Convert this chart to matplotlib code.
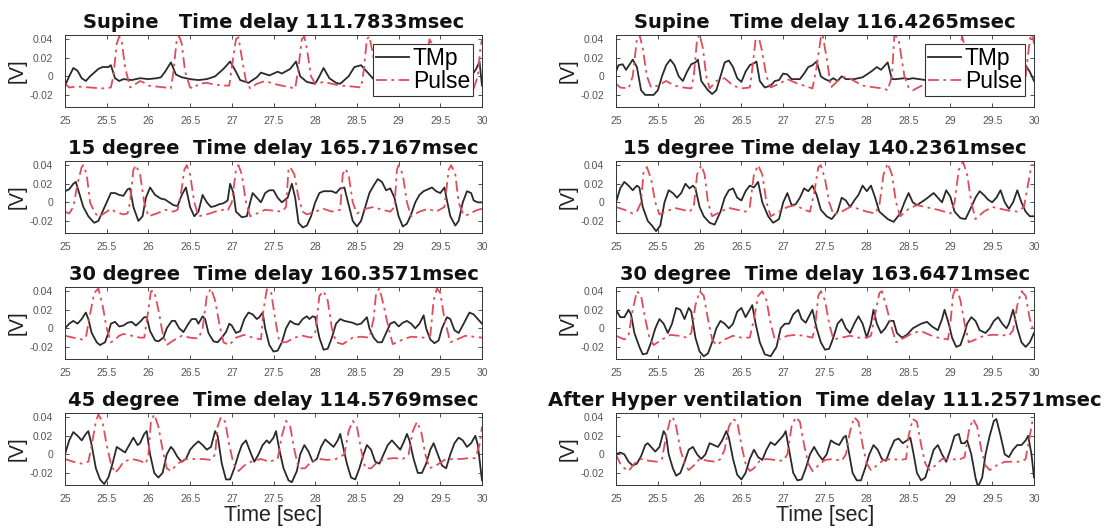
import numpy as np
import matplotlib
matplotlib.use("Agg")
import matplotlib.pyplot as plt

plt.rcParams['font.family'] = ['Liberation Sans', 'DejaVu Sans']

# ---- axis ticks and titles ----
TIME_TICKS = [25, 25.5, 26, 26.5, 27, 27.5, 28, 28.5, 29, 29.5, 30]
TIME_TICK_LABELS = ['25', '25.5', '26', '26.5', '27', '27.5', '28', '28.5', '29', '29.5', '30']
VOLT_TICKS = [-0.02, 0, 0.02, 0.04]
VOLT_TICK_LABELS = ['-0.02', '0', '0.02', '0.04']

TITLES = [
    ['Supine   Time delay 111.7833msec', 'Supine   Time delay 116.4265msec'],
    ['15 degree  Time delay 165.7167msec', '15 degree Time delay 140.2361msec'],
    ['30 degree  Time delay 160.3571msec', '30 degree  Time delay 163.6471msec'],
    ['45 degree  Time delay 114.5769msec', 'After Hyper ventilation  Time delay 111.2571msec'],
]

# ---- recorded signals: (time [sec], voltage [V]) ----
SUPINE_A_TMP = [
    (25.00, -0.010), (25.05, 0.000), (25.10, 0.009), (25.15, 0.006), (25.20, -0.002), (25.25, -0.005),
    (25.30, 0.000), (25.35, 0.004), (25.40, 0.008), (25.45, 0.010), (25.52, 0.010), (25.55, 0.012),
    (25.60, -0.002), (25.65, -0.005), (25.70, -0.003), (25.80, -0.004), (25.90, -0.002), (26.00, -0.003),
    (26.10, -0.002), (26.15, -0.001), (26.20, 0.005), (26.27, 0.015), (26.33, 0.002), (26.40, -0.001),
    (26.50, -0.003), (26.60, -0.004), (26.70, -0.003), (26.80, 0.000), (26.90, 0.008), (26.98, 0.016),
    (27.05, 0.005), (27.10, -0.004), (27.20, -0.007), (27.30, -0.001), (27.35, 0.004), (27.45, 0.001),
    (27.55, 0.005), (27.60, 0.003), (27.70, 0.008), (27.77, 0.016), (27.82, 0.000), (27.90, -0.006),
    (28.00, -0.008), (28.05, 0.000), (28.10, 0.009), (28.17, -0.002), (28.25, -0.007), (28.30, -0.008),
    (28.40, 0.000), (28.47, 0.010), (28.55, 0.012), (28.62, 0.005), (28.70, -0.003), (28.80, -0.005),
    (28.90, 0.000), (29.00, 0.008), (29.10, 0.000), (29.20, -0.005), (29.30, 0.000), (29.40, 0.005),
    (29.50, 0.000), (29.60, -0.004), (29.70, 0.002), (29.80, 0.002), (29.90, 0.004), (29.93, 0.008),
    (29.97, 0.016), (30.00, -0.010),
]
SUPINE_A_PULSE = [
    (25.00, -0.008), (25.05, -0.012), (25.15, -0.011), (25.30, -0.012), (25.45, -0.013), (25.55, -0.012),
    (25.58, 0.000), (25.62, 0.035), (25.65, 0.043), (25.68, 0.038), (25.72, 0.010), (25.78, -0.012),
    (25.85, -0.008), (25.90, -0.005), (25.95, -0.007), (26.00, -0.010), (26.10, -0.011), (26.20, -0.012),
    (26.27, -0.013), (26.30, 0.005), (26.34, 0.040), (26.37, 0.043), (26.40, 0.035), (26.44, 0.005),
    (26.50, -0.012), (26.55, -0.013), (26.60, -0.008), (26.70, -0.007), (26.80, -0.009), (26.90, -0.010),
    (26.97, -0.010), (27.00, 0.010), (27.05, 0.040), (27.08, 0.042), (27.12, 0.020), (27.17, -0.005),
    (27.22, -0.013), (27.30, -0.008), (27.40, -0.005), (27.50, -0.008), (27.60, -0.010), (27.70, -0.012),
    (27.76, -0.013), (27.80, 0.010), (27.84, 0.040), (27.87, 0.043), (27.90, 0.030), (27.95, 0.000),
    (28.00, -0.008), (28.10, -0.006), (28.20, -0.008), (28.30, -0.010), (28.45, -0.011), (28.55, -0.012),
    (28.58, 0.005), (28.62, 0.040), (28.65, 0.043), (28.70, 0.020), (28.75, -0.010), (28.85, -0.012),
    (29.00, -0.008), (29.20, -0.010), (29.30, -0.012), (29.33, 0.010), (29.37, 0.040), (29.40, 0.035),
    (29.45, 0.000), (29.50, -0.012), (29.70, -0.008), (29.85, -0.011), (29.90, -0.013), (29.95, 0.000),
    (29.98, 0.030), (30.00, 0.040),
]

SUPINE_B_TMP = [
    (25.00, 0.005), (25.03, 0.012), (25.08, 0.013), (25.12, 0.007), (25.20, 0.018), (25.25, 0.010),
    (25.30, -0.015), (25.35, -0.020), (25.45, -0.020), (25.50, -0.015), (25.55, 0.000), (25.60, 0.012),
    (25.65, 0.018), (25.70, 0.012), (25.75, 0.000), (25.80, -0.005), (25.85, 0.005), (25.90, 0.013),
    (25.95, 0.015), (25.98, 0.018), (26.02, -0.005), (26.10, -0.015), (26.15, -0.019), (26.20, -0.015),
    (26.25, 0.000), (26.30, 0.015), (26.35, 0.017), (26.40, 0.010), (26.45, -0.002), (26.50, -0.006),
    (26.55, 0.005), (26.60, 0.012), (26.65, 0.014), (26.68, 0.016), (26.72, -0.005), (26.78, -0.012),
    (26.85, -0.010), (26.90, -0.005), (26.95, -0.004), (27.00, 0.003), (27.05, 0.002), (27.10, -0.003),
    (27.20, -0.003), (27.25, 0.003), (27.30, 0.010), (27.35, 0.012), (27.40, 0.016), (27.45, 0.000),
    (27.50, -0.003), (27.55, -0.005), (27.60, -0.002), (27.65, -0.005), (27.70, 0.000), (27.75, -0.003),
    (27.85, -0.003), (27.95, -0.001), (28.05, 0.005), (28.12, 0.010), (28.17, 0.007), (28.25, 0.015),
    (28.30, -0.003), (28.35, -0.003), (28.45, -0.002), (28.50, -0.003), (28.55, -0.002), (28.70, -0.004),
    (28.90, 0.000), (29.10, -0.003), (29.30, 0.005), (29.50, -0.002), (29.70, 0.000), (29.85, 0.008),
    (29.89, 0.013), (29.95, 0.005), (30.00, -0.005),
]
SUPINE_B_PULSE = [
    (25.00, -0.008), (25.05, -0.012), (25.15, -0.013), (25.20, 0.000), (25.25, 0.040), (25.28, 0.045),
    (25.32, 0.030), (25.37, 0.000), (25.42, -0.012), (25.50, -0.010), (25.60, -0.005), (25.70, -0.010),
    (25.80, -0.012), (25.90, -0.013), (25.93, 0.000), (25.97, 0.040), (26.00, 0.045), (26.04, 0.030),
    (26.08, 0.000), (26.12, -0.013), (26.20, -0.005), (26.30, -0.002), (26.40, -0.010), (26.50, -0.013),
    (26.60, -0.012), (26.62, 0.000), (26.67, 0.040), (26.70, 0.045), (26.74, 0.030), (26.80, 0.000),
    (26.85, -0.012), (26.95, -0.008), (27.05, -0.003), (27.15, -0.007), (27.25, -0.010), (27.35, -0.013),
    (27.40, 0.010), (27.45, 0.042), (27.47, 0.045), (27.52, 0.020), (27.57, -0.012), (27.65, -0.005),
    (27.75, 0.000), (27.85, -0.005), (27.95, -0.010), (28.10, -0.012), (28.20, -0.013), (28.25, -0.015),
    (28.30, 0.000), (28.33, 0.045), (28.38, 0.040), (28.45, 0.000), (28.50, -0.012), (28.55, -0.015),
    (28.70, -0.008), (28.90, -0.005), (29.05, -0.010), (29.10, 0.020), (29.14, 0.043), (29.18, 0.030),
    (29.25, 0.000), (29.30, -0.010), (29.50, -0.008), (29.70, -0.010), (29.85, -0.012), (29.90, 0.000),
    (29.95, 0.040), (29.98, 0.045), (30.00, 0.035),
]

DEG15_A_TMP = [
    (25.00, 0.012), (25.05, 0.014), (25.10, 0.020), (25.13, 0.022), (25.17, 0.010), (25.22, -0.005),
    (25.28, -0.015), (25.35, -0.022), (25.40, -0.020), (25.45, -0.010), (25.50, 0.000), (25.55, 0.010),
    (25.60, 0.010), (25.65, 0.008), (25.70, 0.007), (25.75, 0.014), (25.78, 0.015), (25.82, -0.005),
    (25.88, -0.020), (25.93, -0.015), (25.97, 0.005), (26.02, 0.016), (26.08, 0.008), (26.15, 0.004),
    (26.20, 0.003), (26.30, -0.003), (26.35, -0.004), (26.40, 0.008), (26.45, 0.016), (26.50, -0.005),
    (26.55, -0.015), (26.60, -0.010), (26.65, 0.008), (26.70, 0.000), (26.75, -0.005), (26.80, -0.004),
    (26.85, -0.002), (26.90, -0.001), (26.95, 0.002), (26.98, 0.020), (27.02, 0.010), (27.05, -0.010),
    (27.12, -0.016), (27.18, -0.015), (27.22, 0.000), (27.25, 0.010), (27.30, 0.005), (27.35, 0.000),
    (27.40, 0.010), (27.45, 0.013), (27.50, 0.013), (27.55, 0.005), (27.60, 0.000), (27.67, 0.005),
    (27.72, 0.020), (27.76, 0.005), (27.80, -0.022), (27.85, -0.027), (27.90, -0.025), (27.95, -0.015),
    (28.00, 0.000), (28.05, 0.010), (28.10, 0.012), (28.20, 0.012), (28.25, 0.010), (28.30, 0.015),
    (28.35, 0.016), (28.38, 0.005), (28.45, -0.020), (28.50, -0.026), (28.55, -0.020), (28.60, -0.005),
    (28.65, 0.010), (28.70, 0.018), (28.75, 0.025), (28.80, 0.022), (28.85, 0.013), (28.90, 0.015),
    (28.95, 0.005), (29.00, -0.015), (29.05, -0.026), (29.10, -0.023), (29.15, -0.013), (29.20, 0.000),
    (29.25, 0.008), (29.30, 0.012), (29.35, 0.014), (29.40, 0.016), (29.45, 0.012), (29.50, 0.010),
    (29.55, 0.016), (29.58, 0.002), (29.62, -0.015), (29.68, -0.025), (29.72, -0.020), (29.77, 0.000),
    (29.82, 0.012), (29.87, 0.010), (29.90, 0.002), (29.95, 0.000), (30.00, 0.000),
]
DEG15_A_PULSE = [
    (25.00, -0.010), (25.05, -0.012), (25.10, -0.005), (25.15, 0.020), (25.20, 0.038), (25.22, 0.040),
    (25.26, 0.030), (25.30, 0.000), (25.35, -0.010), (25.40, -0.016), (25.50, -0.010), (25.55, -0.007),
    (25.60, -0.010), (25.70, -0.013), (25.75, -0.012), (25.78, 0.000), (25.82, 0.035), (25.85, 0.040),
    (25.90, 0.030), (25.95, 0.000), (26.00, -0.015), (26.10, -0.012), (26.20, -0.008), (26.30, -0.010),
    (26.35, -0.008), (26.40, 0.015), (26.43, 0.035), (26.46, 0.040), (26.50, 0.030), (26.55, 0.000),
    (26.60, -0.015), (26.70, -0.013), (26.80, -0.010), (26.90, -0.008), (26.95, -0.009), (27.00, 0.000),
    (27.05, 0.035), (27.08, 0.040), (27.12, 0.030), (27.17, 0.000), (27.22, -0.015), (27.30, -0.012),
    (27.40, -0.008), (27.50, -0.009), (27.60, -0.010), (27.65, -0.005), (27.68, 0.035), (27.70, 0.038),
    (27.75, 0.030), (27.80, 0.005), (27.85, -0.010), (27.90, -0.013), (28.00, -0.010), (28.10, -0.007),
    (28.20, -0.010), (28.30, -0.008), (28.33, 0.030), (28.36, 0.036), (28.40, 0.030), (28.45, 0.000),
    (28.50, -0.012), (28.60, -0.007), (28.70, -0.005), (28.80, -0.008), (28.90, -0.010), (28.95, -0.005),
    (28.98, 0.035), (29.00, 0.040), (29.05, 0.030), (29.10, 0.000), (29.15, -0.015), (29.25, -0.010),
    (29.35, -0.007), (29.45, -0.010), (29.55, -0.005), (29.60, 0.035), (29.63, 0.040), (29.68, 0.030),
    (29.72, 0.000), (29.78, -0.014), (29.85, -0.013), (29.90, -0.010), (29.95, -0.008), (30.00, -0.007),
]

DEG15_B_TMP = [
    (25.00, 0.000), (25.05, 0.015), (25.10, 0.022), (25.15, 0.018), (25.20, 0.013), (25.25, 0.018),
    (25.28, 0.016), (25.32, -0.005), (25.38, -0.020), (25.43, -0.025), (25.48, -0.031), (25.53, -0.025),
    (25.58, 0.000), (25.63, 0.013), (25.68, 0.010), (25.73, 0.005), (25.78, 0.010), (25.83, 0.020),
    (25.88, 0.015), (25.92, 0.018), (25.95, 0.015), (26.00, -0.005), (26.05, -0.015), (26.12, -0.022),
    (26.18, -0.024), (26.25, -0.010), (26.30, 0.005), (26.35, 0.013), (26.40, 0.015), (26.45, 0.005),
    (26.50, 0.002), (26.55, 0.012), (26.60, 0.018), (26.65, 0.016), (26.70, 0.022), (26.75, 0.000),
    (26.82, -0.015), (26.88, -0.022), (26.95, -0.018), (27.00, 0.000), (27.05, 0.010), (27.10, -0.003),
    (27.15, -0.002), (27.20, 0.005), (27.25, 0.015), (27.30, 0.012), (27.35, 0.018), (27.40, 0.008),
    (27.45, -0.008), (27.52, -0.015), (27.58, -0.018), (27.65, -0.010), (27.70, 0.005), (27.75, 0.002),
    (27.80, -0.005), (27.85, 0.002), (27.90, 0.008), (27.95, 0.018), (28.00, 0.012), (28.05, 0.018),
    (28.10, 0.005), (28.15, -0.010), (28.25, -0.018), (28.32, -0.021), (28.40, -0.012), (28.45, 0.000),
    (28.50, 0.010), (28.55, 0.000), (28.60, -0.003), (28.70, 0.003), (28.80, 0.010), (28.85, 0.005),
    (28.90, 0.000), (28.95, 0.013), (29.00, 0.006), (29.05, -0.010), (29.12, -0.017), (29.18, -0.018),
    (29.25, -0.005), (29.30, 0.005), (29.35, 0.012), (29.40, 0.008), (29.45, 0.003), (29.50, 0.000),
    (29.55, 0.005), (29.60, 0.013), (29.65, 0.000), (29.70, -0.007), (29.75, 0.000), (29.80, 0.013),
    (29.85, 0.000), (29.90, -0.010), (29.95, -0.015), (30.00, -0.015),
]
DEG15_B_PULSE = [
    (25.00, -0.005), (25.10, -0.008), (25.20, -0.012), (25.25, -0.010), (25.30, 0.000), (25.33, 0.033),
    (25.37, 0.038), (25.42, 0.025), (25.47, 0.000), (25.52, -0.013), (25.60, -0.010), (25.70, -0.006),
    (25.80, -0.008), (25.88, -0.010), (25.93, -0.005), (25.97, 0.030), (26.02, 0.040), (26.06, 0.030),
    (26.10, 0.000), (26.15, -0.015), (26.25, -0.010), (26.35, -0.006), (26.45, -0.008), (26.55, -0.010),
    (26.60, -0.005), (26.65, 0.030), (26.70, 0.040), (26.75, 0.030), (26.80, 0.000), (26.85, -0.015),
    (26.95, -0.010), (27.05, -0.005), (27.15, -0.003), (27.25, -0.008), (27.32, -0.010), (27.37, 0.010),
    (27.42, 0.038), (27.45, 0.040), (27.50, 0.025), (27.55, 0.000), (27.60, -0.013), (27.70, -0.010),
    (27.80, -0.005), (27.90, -0.007), (28.00, -0.010), (28.10, -0.012), (28.15, -0.003), (28.20, 0.030),
    (28.25, 0.042), (28.30, 0.030), (28.35, 0.000), (28.40, -0.015), (28.50, -0.007), (28.60, -0.003),
    (28.70, -0.005), (28.85, -0.008), (29.00, -0.012), (29.05, 0.000), (29.10, 0.035), (29.15, 0.044),
    (29.20, 0.030), (29.25, 0.000), (29.30, -0.018), (29.40, -0.010), (29.50, -0.005), (29.60, -0.007),
    (29.70, -0.009), (29.80, -0.010), (29.88, -0.005), (29.93, 0.020), (29.97, 0.040), (30.00, 0.040),
]

DEG30_A_TMP = [
    (25.00, 0.000), (25.05, 0.005), (25.10, 0.008), (25.15, 0.005), (25.20, 0.010), (25.25, 0.017),
    (25.28, 0.010), (25.32, -0.005), (25.38, -0.015), (25.42, -0.018), (25.48, -0.015), (25.52, -0.005),
    (25.55, 0.005), (25.60, 0.007), (25.65, 0.002), (25.70, 0.003), (25.75, 0.006), (25.80, 0.007),
    (25.85, 0.003), (25.90, 0.007), (25.95, 0.012), (25.98, 0.012), (26.02, -0.003), (26.08, -0.013),
    (26.12, -0.014), (26.18, -0.010), (26.22, 0.000), (26.28, 0.008), (26.32, 0.008), (26.37, 0.000),
    (26.42, -0.004), (26.48, 0.005), (26.52, 0.010), (26.57, 0.010), (26.60, 0.005), (26.65, 0.013),
    (26.68, 0.010), (26.72, -0.005), (26.78, -0.014), (26.83, -0.015), (26.88, -0.010), (26.93, -0.004),
    (26.97, 0.005), (27.00, 0.003), (27.05, -0.005), (27.10, -0.003), (27.15, 0.010), (27.20, 0.017),
    (27.25, 0.015), (27.30, 0.010), (27.33, 0.012), (27.37, 0.017), (27.40, 0.000), (27.45, -0.018),
    (27.50, -0.025), (27.55, -0.024), (27.60, -0.015), (27.65, 0.000), (27.70, 0.008), (27.75, 0.005),
    (27.80, 0.004), (27.85, 0.010), (27.90, 0.013), (27.93, 0.010), (27.97, 0.013), (28.00, 0.012),
    (28.05, -0.010), (28.10, -0.023), (28.15, -0.022), (28.20, -0.010), (28.25, 0.005), (28.30, 0.010),
    (28.35, 0.008), (28.45, 0.006), (28.50, 0.004), (28.55, 0.005), (28.62, 0.012), (28.65, 0.000),
    (28.70, -0.010), (28.75, -0.015), (28.80, -0.015), (28.85, -0.005), (28.90, 0.005), (28.95, 0.007),
    (29.00, 0.002), (29.05, 0.006), (29.10, 0.008), (29.15, 0.005), (29.20, 0.000), (29.25, 0.005),
    (29.30, 0.014), (29.33, 0.000), (29.38, -0.012), (29.43, -0.016), (29.48, -0.013), (29.52, 0.000),
    (29.58, 0.012), (29.62, 0.010), (29.67, -0.002), (29.72, -0.005), (29.78, 0.005), (29.85, 0.017),
    (29.90, 0.015), (29.95, 0.010), (30.00, 0.005),
]
DEG30_A_PULSE = [
    (25.00, -0.008), (25.10, -0.010), (25.20, -0.012), (25.25, -0.010), (25.30, 0.015), (25.35, 0.038),
    (25.40, 0.043), (25.45, 0.025), (25.50, 0.000), (25.55, -0.015), (25.60, -0.012), (25.65, -0.008),
    (25.70, -0.006), (25.80, -0.008), (25.90, -0.010), (25.95, -0.010), (26.00, 0.020), (26.03, 0.040),
    (26.07, 0.040), (26.12, 0.020), (26.17, -0.005), (26.22, -0.018), (26.30, -0.013), (26.40, -0.008),
    (26.50, -0.010), (26.60, -0.011), (26.65, 0.000), (26.70, 0.035), (26.75, 0.043), (26.80, 0.030),
    (26.85, 0.005), (26.90, -0.015), (26.97, -0.018), (27.05, -0.010), (27.15, -0.007), (27.25, -0.010),
    (27.35, -0.012), (27.38, 0.020), (27.42, 0.042), (27.47, 0.040), (27.52, 0.010), (27.57, -0.015),
    (27.65, -0.015), (27.75, -0.010), (27.85, -0.008), (27.95, -0.010), (28.00, -0.005), (28.05, 0.035),
    (28.10, 0.040), (28.15, 0.030), (28.20, 0.000), (28.25, -0.015), (28.33, -0.017), (28.45, -0.010),
    (28.55, -0.009), (28.65, -0.010), (28.70, 0.010), (28.73, 0.038), (28.77, 0.043), (28.82, 0.025),
    (28.88, 0.000), (28.93, -0.017), (29.05, -0.012), (29.15, -0.009), (29.30, -0.010), (29.38, -0.008),
    (29.42, 0.030), (29.46, 0.043), (29.50, 0.038), (29.55, 0.010), (29.62, -0.015), (29.70, -0.012),
    (29.80, -0.008), (29.90, -0.009), (30.00, -0.010),
]

DEG30_B_TMP = [
    (25.00, 0.020), (25.05, 0.012), (25.10, 0.012), (25.15, 0.020), (25.18, 0.015), (25.22, -0.005),
    (25.28, -0.020), (25.32, -0.028), (25.37, -0.027), (25.42, -0.015), (25.47, 0.000), (25.52, 0.010),
    (25.57, 0.005), (25.62, -0.005), (25.67, 0.005), (25.72, 0.022), (25.77, 0.020), (25.82, 0.010),
    (25.87, 0.022), (25.90, 0.018), (25.95, -0.010), (26.00, -0.025), (26.05, -0.030), (26.10, -0.027),
    (26.15, -0.015), (26.20, 0.000), (26.25, 0.008), (26.30, 0.005), (26.35, 0.000), (26.40, 0.005),
    (26.45, 0.018), (26.50, 0.022), (26.55, 0.012), (26.60, 0.020), (26.63, 0.025), (26.67, 0.005),
    (26.72, -0.015), (26.78, -0.028), (26.85, -0.030), (26.92, -0.020), (26.97, 0.000), (27.02, 0.005),
    (27.07, 0.005), (27.12, 0.015), (27.18, 0.020), (27.22, 0.010), (27.27, 0.006), (27.32, 0.015),
    (27.35, 0.020), (27.40, 0.000), (27.45, -0.015), (27.50, -0.023), (27.55, -0.022), (27.60, -0.010),
    (27.65, 0.005), (27.70, 0.010), (27.75, 0.000), (27.80, -0.005), (27.85, 0.005), (27.90, 0.013),
    (27.95, 0.005), (28.00, -0.010), (28.05, 0.005), (28.08, 0.020), (28.12, 0.005), (28.17, -0.005),
    (28.22, 0.000), (28.27, 0.008), (28.32, 0.008), (28.36, -0.005), (28.42, -0.010), (28.48, -0.007),
    (28.55, 0.000), (28.65, 0.005), (28.72, 0.007), (28.78, 0.002), (28.85, -0.002), (28.90, 0.010),
    (28.93, 0.020), (28.98, 0.005), (29.02, -0.010), (29.07, -0.020), (29.12, -0.018), (29.17, -0.005),
    (29.20, 0.005), (29.25, 0.012), (29.30, 0.008), (29.35, -0.002), (29.42, -0.005), (29.47, 0.000),
    (29.52, 0.008), (29.57, 0.012), (29.62, 0.005), (29.67, 0.000), (29.70, 0.005), (29.75, 0.020),
    (29.80, 0.000), (29.85, -0.015), (29.90, -0.020), (29.95, -0.015), (30.00, -0.005),
]
DEG30_B_PULSE = [
    (25.00, -0.008), (25.10, -0.012), (25.15, -0.008), (25.20, 0.020), (25.25, 0.040), (25.30, 0.035),
    (25.35, 0.010), (25.40, -0.010), (25.45, -0.018), (25.55, -0.012), (25.65, -0.007), (25.75, -0.008),
    (25.85, -0.010), (25.90, -0.005), (25.95, 0.025), (26.00, 0.040), (26.05, 0.035), (26.10, 0.010),
    (26.15, -0.012), (26.20, -0.018), (26.30, -0.012), (26.40, -0.008), (26.50, -0.010), (26.60, -0.010),
    (26.65, 0.010), (26.70, 0.035), (26.75, 0.040), (26.80, 0.030), (26.85, 0.005), (26.90, -0.012),
    (26.95, -0.012), (27.05, -0.008), (27.15, -0.007), (27.25, -0.008), (27.35, -0.010), (27.38, 0.000),
    (27.42, 0.035), (27.45, 0.040), (27.50, 0.030), (27.55, 0.005), (27.60, -0.012), (27.70, -0.010),
    (27.80, -0.008), (27.90, -0.010), (28.00, -0.010), (28.05, -0.008), (28.10, 0.015), (28.15, 0.038),
    (28.18, 0.040), (28.23, 0.025), (28.30, 0.000), (28.35, -0.015), (28.45, -0.010), (28.55, -0.005),
    (28.65, -0.003), (28.75, -0.007), (28.85, -0.010), (28.97, -0.012), (29.00, 0.005), (29.03, 0.035),
    (29.07, 0.045), (29.12, 0.030), (29.17, 0.005), (29.22, -0.015), (29.30, -0.012), (29.40, -0.008),
    (29.50, -0.007), (29.60, -0.007), (29.70, -0.008), (29.75, -0.002), (29.80, 0.025), (29.85, 0.040),
    (29.90, 0.035), (29.95, 0.010), (30.00, -0.005),
]

DEG45_TMP = [
    (25.00, 0.000), (25.05, 0.015), (25.10, 0.024), (25.15, 0.020), (25.20, 0.015), (25.25, 0.022),
    (25.28, 0.025), (25.32, 0.010), (25.37, -0.015), (25.42, -0.027), (25.47, -0.032), (25.52, -0.025),
    (25.57, -0.010), (25.62, 0.008), (25.67, 0.005), (25.72, 0.002), (25.77, 0.010), (25.82, 0.018),
    (25.87, 0.010), (25.90, 0.012), (25.95, 0.022), (25.98, 0.025), (26.02, 0.000), (26.07, -0.020),
    (26.12, -0.025), (26.17, -0.020), (26.22, 0.000), (26.27, 0.008), (26.30, 0.005), (26.35, -0.003),
    (26.40, -0.008), (26.45, -0.005), (26.50, 0.005), (26.55, 0.010), (26.60, 0.014), (26.65, 0.010),
    (26.70, 0.005), (26.75, 0.008), (26.80, 0.025), (26.83, 0.020), (26.88, -0.010), (26.93, -0.027),
    (26.98, -0.027), (27.03, -0.015), (27.08, 0.000), (27.12, 0.010), (27.17, 0.015), (27.22, 0.003),
    (27.27, -0.008), (27.32, 0.000), (27.37, 0.010), (27.42, 0.015), (27.45, 0.012), (27.50, 0.018),
    (27.53, 0.025), (27.57, 0.005), (27.62, -0.015), (27.68, -0.028), (27.72, -0.030), (27.78, -0.018),
    (27.82, 0.000), (27.87, 0.010), (27.92, 0.003), (27.97, -0.008), (28.02, -0.005), (28.07, 0.008),
    (28.12, 0.016), (28.17, 0.012), (28.22, 0.008), (28.27, 0.015), (28.30, 0.022), (28.33, 0.010),
    (28.38, -0.010), (28.43, -0.025), (28.48, -0.027), (28.53, -0.015), (28.58, 0.000), (28.62, 0.010),
    (28.67, 0.005), (28.72, -0.008), (28.77, -0.010), (28.82, 0.000), (28.87, 0.010), (28.92, 0.015),
    (28.97, 0.010), (29.02, 0.005), (29.07, 0.015), (29.10, 0.022), (29.13, 0.015), (29.18, -0.005),
    (29.23, -0.020), (29.28, -0.020), (29.33, -0.010), (29.38, 0.005), (29.42, 0.012), (29.47, 0.000),
    (29.52, -0.012), (29.57, -0.015), (29.62, 0.000), (29.67, 0.012), (29.72, 0.018), (29.77, 0.015),
    (29.82, 0.008), (29.87, 0.012), (29.92, 0.020), (29.95, 0.010), (30.00, -0.028),
]
DEG45_PULSE = [
    (25.00, -0.005), (25.10, -0.008), (25.20, -0.010), (25.28, -0.008), (25.32, 0.010), (25.37, 0.035),
    (25.40, 0.043), (25.45, 0.035), (25.50, 0.010), (25.55, -0.010), (25.60, -0.020), (25.65, -0.015),
    (25.70, -0.008), (25.80, -0.005), (25.90, -0.007), (25.97, -0.010), (26.00, 0.000), (26.03, 0.035),
    (26.07, 0.043), (26.12, 0.030), (26.17, 0.005), (26.22, -0.015), (26.27, -0.018), (26.35, -0.010),
    (26.45, -0.005), (26.55, -0.005), (26.65, -0.005), (26.75, -0.006), (26.80, 0.000), (26.83, 0.030),
    (26.87, 0.040), (26.92, 0.035), (26.97, 0.010), (27.02, -0.010), (27.08, -0.018), (27.15, -0.012),
    (27.25, -0.007), (27.35, -0.005), (27.45, -0.008), (27.55, -0.005), (27.60, 0.020), (27.65, 0.036),
    (27.70, 0.030), (27.75, 0.005), (27.80, -0.015), (27.88, -0.015), (27.95, -0.008), (28.05, -0.005),
    (28.15, -0.006), (28.25, -0.005), (28.35, 0.000), (28.40, 0.025), (28.45, 0.036), (28.50, 0.030),
    (28.55, 0.005), (28.60, -0.015), (28.67, -0.015), (28.75, -0.008), (28.85, -0.005), (28.95, -0.004),
    (29.05, -0.005), (29.12, 0.000), (29.17, 0.025), (29.22, 0.035), (29.27, 0.025), (29.32, 0.000),
    (29.37, -0.015), (29.45, -0.012), (29.55, -0.006), (29.65, -0.005), (29.75, -0.005), (29.85, -0.004),
    (29.92, -0.004), (29.97, 0.010), (30.00, 0.030),
]

HYPER_TMP = [
    (25.00, 0.000), (25.05, 0.002), (25.10, 0.000), (25.15, -0.008), (25.20, -0.012), (25.25, -0.010),
    (25.30, -0.002), (25.35, 0.010), (25.38, 0.012), (25.42, 0.008), (25.47, 0.003), (25.52, 0.008),
    (25.57, 0.025), (25.60, 0.020), (25.63, 0.000), (25.68, -0.015), (25.72, -0.023), (25.77, -0.020),
    (25.82, -0.008), (25.87, 0.005), (25.92, 0.008), (25.97, 0.000), (26.02, -0.005), (26.07, 0.000),
    (26.12, 0.012), (26.17, 0.010), (26.22, 0.008), (26.27, 0.015), (26.32, 0.025), (26.35, 0.018),
    (26.40, -0.005), (26.45, -0.022), (26.50, -0.027), (26.55, -0.020), (26.60, -0.005), (26.65, 0.005),
    (26.70, -0.003), (26.75, -0.006), (26.80, 0.005), (26.85, 0.013), (26.90, 0.010), (26.95, 0.015),
    (27.00, 0.020), (27.03, 0.025), (27.07, 0.005), (27.12, -0.020), (27.17, -0.028), (27.22, -0.027),
    (27.27, -0.015), (27.32, 0.000), (27.37, 0.008), (27.42, 0.000), (27.47, -0.006), (27.52, 0.000),
    (27.57, 0.015), (27.62, 0.012), (27.67, 0.010), (27.72, 0.018), (27.75, 0.020), (27.78, 0.005),
    (27.83, -0.020), (27.88, -0.028), (27.93, -0.028), (27.98, -0.015), (28.03, 0.000), (28.08, 0.010),
    (28.13, 0.005), (28.18, -0.005), (28.23, -0.007), (28.28, 0.005), (28.33, 0.015), (28.38, 0.017),
    (28.43, 0.012), (28.48, 0.015), (28.52, 0.018), (28.55, 0.005), (28.60, -0.020), (28.65, -0.028),
    (28.70, -0.025), (28.75, -0.010), (28.80, 0.005), (28.85, 0.010), (28.90, 0.000), (28.95, -0.008),
    (29.00, 0.005), (29.05, 0.020), (29.10, 0.022), (29.13, 0.012), (29.17, 0.012), (29.20, 0.015),
    (29.25, 0.000), (29.30, -0.025), (29.33, -0.035), (29.38, -0.025), (29.42, 0.000), (29.47, 0.020),
    (29.52, 0.036), (29.55, 0.038), (29.60, 0.020), (29.65, 0.000), (29.70, -0.003), (29.75, 0.005),
    (29.80, 0.010), (29.85, 0.010), (29.90, 0.015), (29.93, 0.020), (29.97, 0.000), (30.00, -0.025),
]
HYPER_PULSE = [
    (25.00, 0.000), (25.05, -0.010), (25.10, -0.015), (25.15, -0.018), (25.22, -0.010), (25.30, -0.005),
    (25.40, -0.007), (25.50, -0.008), (25.55, -0.005), (25.60, 0.020), (25.65, 0.038), (25.68, 0.040),
    (25.72, 0.030), (25.77, 0.005), (25.82, -0.010), (25.87, -0.017), (25.93, -0.012), (26.00, -0.005),
    (26.10, -0.007), (26.20, -0.008), (26.25, -0.005), (26.30, 0.005), (26.35, 0.030), (26.40, 0.038),
    (26.45, 0.035), (26.50, 0.010), (26.55, -0.010), (26.60, -0.018), (26.65, -0.015), (26.72, -0.007),
    (26.80, -0.005), (26.90, -0.006), (27.00, -0.007), (27.05, 0.000), (27.10, 0.030), (27.15, 0.040),
    (27.20, 0.035), (27.25, 0.010), (27.30, -0.010), (27.35, -0.018), (27.42, -0.012), (27.50, -0.006),
    (27.60, -0.005), (27.70, -0.007), (27.75, 0.000), (27.80, 0.025), (27.85, 0.040), (27.90, 0.035),
    (27.95, 0.010), (28.00, -0.010), (28.05, -0.017), (28.12, -0.012), (28.20, -0.006), (28.30, -0.005),
    (28.40, -0.006), (28.47, -0.005), (28.50, 0.020), (28.55, 0.038), (28.60, 0.035), (28.65, 0.010),
    (28.70, -0.010), (28.75, -0.017), (28.82, -0.012), (28.90, -0.005), (29.00, -0.005), (29.10, -0.006),
    (29.17, -0.003), (29.22, 0.025), (29.27, 0.038), (29.32, 0.030), (29.37, 0.005), (29.42, -0.012),
    (29.47, -0.017), (29.55, -0.012), (29.65, -0.008), (29.75, -0.008), (29.85, -0.008), (29.90, -0.005),
    (29.95, 0.020), (29.98, 0.035), (30.00, 0.040),
]

PANELS = [
    [(SUPINE_A_TMP, SUPINE_A_PULSE), (SUPINE_B_TMP, SUPINE_B_PULSE)],
    [(DEG15_A_TMP, DEG15_A_PULSE), (DEG15_B_TMP, DEG15_B_PULSE)],
    [(DEG30_A_TMP, DEG30_A_PULSE), (DEG30_B_TMP, DEG30_B_PULSE)],
    [(DEG45_TMP, DEG45_PULSE), (HYPER_TMP, HYPER_PULSE)],
]

# ---- layout (pixel boxes of the 4x2 grid) ----
W, H = 1107, 531
fig = plt.figure(figsize=(W / 100, H / 100), dpi=100)
fig.patch.set_facecolor('white')

col_px = [(65, 482), (616, 1034)]
row_top = [35, 161, 287, 413]
row_h = 72

TMP_COLOR = '#2a2a2a'
PULSE_COLOR = '#e24b58'

for r in range(4):
    for c in range(2):
        x0, x1 = col_px[c]
        y0 = row_top[r]
        y1 = y0 + row_h
        ax = fig.add_axes([x0 / W, 1 - y1 / H, (x1 - x0) / W, (y1 - y0) / H])
        tmp = np.array(PANELS[r][c][0]).T
        pulse = np.array(PANELS[r][c][1]).T
        ax.plot(tmp[0], tmp[1], color=TMP_COLOR, lw=1.3, label='TMp')
        ax.plot(pulse[0], pulse[1], color=PULSE_COLOR, lw=1.3,
                linestyle=(0, (6, 2.5, 1.5, 2.5)), label='Pulse')
        ax.set_xlim(25, 30)
        ax.set_ylim(-0.033, 0.0445)
        ax.set_xticks(TIME_TICKS)
        ax.set_xticklabels(TIME_TICK_LABELS)
        ax.set_yticks(VOLT_TICKS)
        ax.set_yticklabels(VOLT_TICK_LABELS)
        ax.tick_params(direction='in', top=True, right=True, length=3, width=0.6,
                       labelsize=7.5, labelcolor='#555555', color='#333333')
        ax.tick_params(axis='x', pad=6.5)
        ax.tick_params(axis='y', pad=8.5)
        for sp in ax.spines.values():
            sp.set_color('#333333')
            sp.set_linewidth(0.7)
        ax.set_title(TITLES[r][c], fontsize=14, fontweight='bold', pad=5,
                     color='#111111', family='DejaVu Sans')
        ax.set_ylabel('[V]', fontsize=14.5, color='#222222')
        ax.yaxis.set_label_coords(-0.093, 0.5)
        if r == 3:
            ax.set_xlabel('Time [sec]', fontsize=15.5, color='#222222', labelpad=1)
        if r == 0:
            leg = ax.legend(loc='upper right', fontsize=16.5, handlelength=1.45,
                            handletextpad=0.15, labelspacing=0.0, borderpad=0.12,
                            borderaxespad=0.4, fancybox=False, framealpha=1,
                            edgecolor='#333333')
            leg.get_frame().set_linewidth(0.8)

fig.savefig('out.png', dpi=100, facecolor='white')
